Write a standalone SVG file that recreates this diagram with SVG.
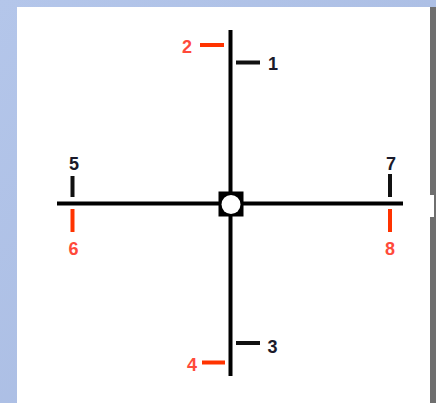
<svg xmlns="http://www.w3.org/2000/svg" width="436" height="403" viewBox="0 0 436 403">
  <defs>
    <linearGradient id="bg" x1="0" y1="0" x2="1" y2="1">
      <stop offset="0" stop-color="#b4c6ea"/>
      <stop offset="1" stop-color="#a6b9e0"/>
    </linearGradient>
    <style>
      .axis { stroke: #000; stroke-width: 4; fill: none; }
      .tk { stroke: #111; stroke-width: 4; }
      .tr { stroke: #ff3300; stroke-width: 4; }
      .lb { font-family: "Liberation Sans", Arial, sans-serif; font-weight: bold; font-size: 18px; text-anchor: middle; }
      .lk { fill: #1a1a2a; }
      .lr { fill: #ff4a3a; }
    </style>
  </defs>
  <rect x="0" y="0" width="436" height="403" fill="url(#bg)"/>
  <rect x="17" y="7" width="413" height="396" fill="#fff"/>
  <rect x="430" y="7" width="6" height="396" fill="#6f6f6f"/>
  <rect x="430" y="195" width="4" height="22" fill="#fff"/>

  <g id="connectors">
    <line class="axis" x1="230.5" y1="30" x2="230.5" y2="376"/>
    <line class="axis" x1="57" y1="203.5" x2="403" y2="203.5"/>
  </g>

  <g id="center">
    <rect x="218.5" y="191.5" width="25" height="25" fill="#000"/>
    <circle cx="231" cy="204.5" r="9.5" fill="#fff"/>
  </g>

  <g id="n1">
    <line class="tk" x1="236" y1="62.5" x2="260" y2="62.5"/>
    <text class="lb lk" x="273" y="70">1</text>
  </g>
  <g id="n2">
    <line class="tr" x1="200" y1="45" x2="224" y2="45"/>
    <text class="lb lr" x="187" y="53">2</text>
  </g>
  <g id="n3">
    <line class="tk" x1="236" y1="343" x2="260" y2="343"/>
    <text class="lb lk" x="272.5" y="352.5">3</text>
  </g>
  <g id="n4">
    <line class="tr" x1="202" y1="362.5" x2="225" y2="362.5"/>
    <text class="lb lr" x="192" y="370.5">4</text>
  </g>
  <g id="n5">
    <line class="tk" x1="72.5" y1="176" x2="72.5" y2="197"/>
    <text class="lb lk" x="74" y="169.5">5</text>
  </g>
  <g id="n6">
    <line class="tr" x1="72.5" y1="209" x2="72.5" y2="232"/>
    <text class="lb lr" x="73.5" y="254.5">6</text>
  </g>
  <g id="n7">
    <line class="tk" x1="390" y1="174" x2="390" y2="197"/>
    <text class="lb lk" x="391" y="169.5">7</text>
  </g>
  <g id="n8">
    <line class="tr" x1="390" y1="209" x2="390" y2="232"/>
    <text class="lb lr" x="390" y="254.5">8</text>
  </g>
</svg>
